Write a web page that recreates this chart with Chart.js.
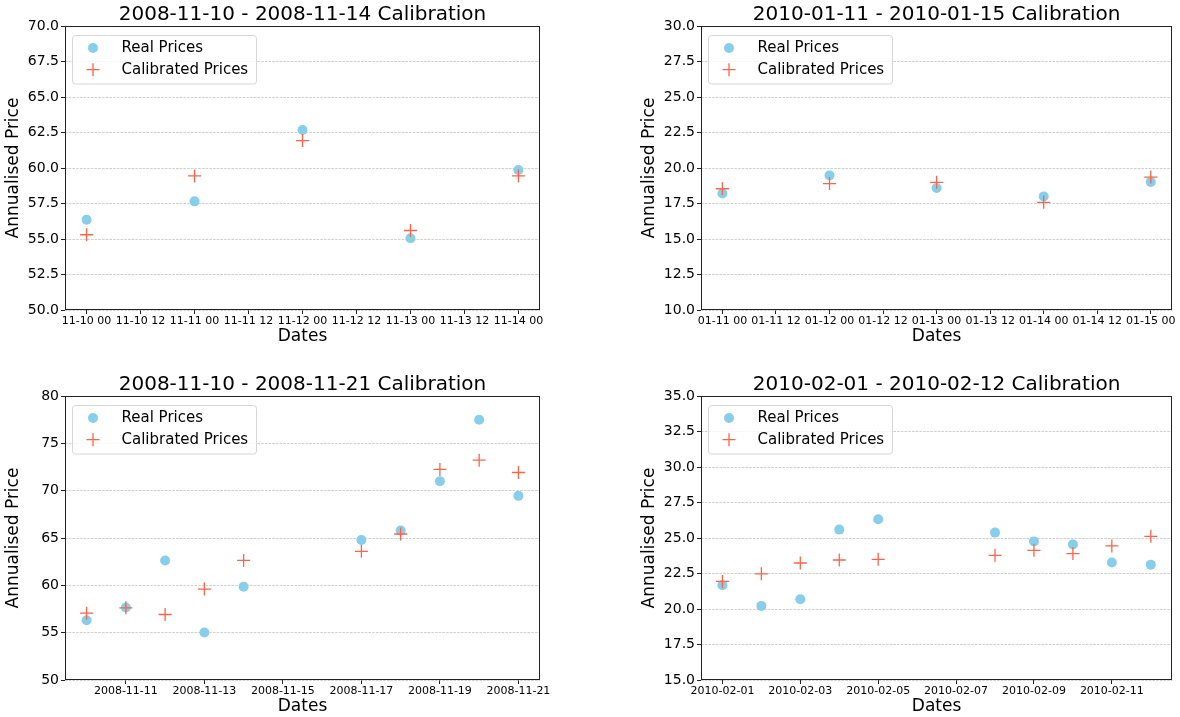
<!DOCTYPE html>
<html>
<head>
<meta charset="utf-8">
<script src="https://cdn.jsdelivr.net/npm/chart.js@4.4.1/dist/chart.umd.min.js"></script>
<style>
  html, body { margin: 0; padding: 0; background: #ffffff; }
  body { width: 1180px; height: 717px; position: relative; overflow: hidden; }
  .panel { position: absolute; width: 590px; height: 358px; }
  .panel canvas { display: block; }
</style>
</head>
<body>
<div class="panel" style="left:0;top:0"><canvas id="c1" width="590" height="358"></canvas></div>
<div class="panel" style="left:590px;top:0"><canvas id="c2" width="590" height="358"></canvas></div>
<div class="panel" style="left:0;top:370px"><canvas id="c3" width="590" height="358"></canvas></div>
<div class="panel" style="left:590px;top:370px"><canvas id="c4" width="590" height="358"></canvas></div>
<script>
// ---------------- DATA ----------------
const seriesNames = ['Real Prices', 'Calibrated Prices'];

// Panel 1: 2008-11-10 - 2008-11-14
const dates1 = ['2008-11-10', '2008-11-11', '2008-11-12', '2008-11-13', '2008-11-14'];
const real1 = [56.35, 57.65, 62.68, 55.05, 59.86];
const calib1 = [55.30, 59.44, 61.93, 55.60, 59.44];
const xTicks1 = ['2008-11-10T00', '2008-11-10T12', '2008-11-11T00', '2008-11-11T12', '2008-11-12T00',
                 '2008-11-12T12', '2008-11-13T00', '2008-11-13T12', '2008-11-14T00'];
const yTicks1 = [50.0, 52.5, 55.0, 57.5, 60.0, 62.5, 65.0, 67.5, 70.0];

// Panel 2: 2010-01-11 - 2010-01-15
const dates2 = ['2010-01-11', '2010-01-12', '2010-01-13', '2010-01-14', '2010-01-15'];
const real2 = [18.21, 19.48, 18.59, 18.00, 19.01];
const calib2 = [18.54, 18.90, 18.99, 17.58, 19.36];
const xTicks2 = ['2010-01-11T00', '2010-01-11T12', '2010-01-12T00', '2010-01-12T12', '2010-01-13T00',
                 '2010-01-13T12', '2010-01-14T00', '2010-01-14T12', '2010-01-15T00'];
const yTicks2 = [10.0, 12.5, 15.0, 17.5, 20.0, 22.5, 25.0, 27.5, 30.0];

// Panel 3: 2008-11-10 - 2008-11-21
const dates3 = ['2008-11-10', '2008-11-11', '2008-11-12', '2008-11-13', '2008-11-14',
                '2008-11-17', '2008-11-18', '2008-11-19', '2008-11-20', '2008-11-21'];
const real3 = [56.32, 57.66, 62.63, 55.01, 59.85, 64.79, 65.78, 71.00, 77.50, 69.45];
const calib3 = [57.06, 57.62, 56.92, 59.60, 62.63, 63.59, 65.42, 72.24, 73.22, 71.92];
const xTicks3 = ['2008-11-11', '2008-11-13', '2008-11-15', '2008-11-17', '2008-11-19', '2008-11-21'];
const yTicks3 = [50, 55, 60, 65, 70, 75, 80];

// Panel 4: 2010-02-01 - 2010-02-12
const dates4 = ['2010-02-01', '2010-02-02', '2010-02-03', '2010-02-04', '2010-02-05',
                '2010-02-08', '2010-02-09', '2010-02-10', '2010-02-11', '2010-02-12'];
const real4 = [21.68, 20.22, 20.69, 25.59, 26.32, 25.38, 24.76, 24.55, 23.28, 23.12];
const calib4 = [21.94, 22.48, 23.24, 23.45, 23.50, 23.78, 24.13, 23.90, 24.44, 25.12];
const xTicks4 = ['2010-02-01', '2010-02-03', '2010-02-05', '2010-02-07', '2010-02-09', '2010-02-11'];
const yTicks4 = [15.0, 17.5, 20.0, 22.5, 25.0, 27.5, 30.0, 32.5, 35.0];

// ---------------- HELPERS ----------------
const FONT = "'DejaVu Sans', 'Liberation Sans', sans-serif";
const REAL_COLOR = '#87CEEB';
const CALIB_COLOR = '#FF6347';

function toMs(s) {
  const [d, h] = s.split('T');
  const [y, m, dd] = d.split('-').map(Number);
  return Date.UTC(y, m - 1, dd, h ? Number(h) : 0);
}
function pad2(n) { return String(n).padStart(2, '0'); }
function fmtShort(ms) {
  const d = new Date(ms);
  return pad2(d.getUTCMonth() + 1) + '-' + pad2(d.getUTCDate()) + ' ' + pad2(d.getUTCHours());
}
function fmtLong(ms) {
  const d = new Date(ms);
  return d.getUTCFullYear() + '-' + pad2(d.getUTCMonth() + 1) + '-' + pad2(d.getUTCDate());
}

const framePlugin = {
  id: 'frameAndLegend',
  afterDatasetsDraw(chart) {
    const { ctx, chartArea: a } = chart;
    ctx.save();
    ctx.strokeStyle = '#222222';
    ctx.lineWidth = 1;
    ctx.strokeRect(Math.round(a.left) + 0.5, Math.round(a.top) + 0.5,
                   Math.round(a.right - a.left) - 1, Math.round(a.bottom - a.top) - 1);
    const bx = a.left + 7.5, by = a.top + 9.5, bw = 184, bh = 48.5, r = 3;
    ctx.beginPath();
    ctx.moveTo(bx + r, by);
    ctx.lineTo(bx + bw - r, by);
    ctx.quadraticCurveTo(bx + bw, by, bx + bw, by + r);
    ctx.lineTo(bx + bw, by + bh - r);
    ctx.quadraticCurveTo(bx + bw, by + bh, bx + bw - r, by + bh);
    ctx.lineTo(bx + r, by + bh);
    ctx.quadraticCurveTo(bx, by + bh, bx, by + bh - r);
    ctx.lineTo(bx, by + r);
    ctx.quadraticCurveTo(bx, by, bx + r, by);
    ctx.closePath();
    ctx.fillStyle = 'rgba(255,255,255,0.8)';
    ctx.fill();
    ctx.strokeStyle = '#d6d6d6';
    ctx.lineWidth = 1;
    ctx.stroke();
    const rows = [a.top + 22, a.top + 43.7];
    const mx = a.left + 28, tx = a.left + 56.5;
    chart.data.datasets.slice().sort((p, q) => p.legendIndex - q.legendIndex).forEach((ds, i) => {
      const y = rows[i];
      if (ds.pointStyle === 'circle') {
        ctx.beginPath();
        ctx.arc(mx, y, ds.pointRadius, 0, Math.PI * 2);
        ctx.fillStyle = ds.backgroundColor;
        ctx.fill();
      } else {
        ctx.beginPath();
        ctx.strokeStyle = ds.borderColor;
        ctx.lineWidth = ds.borderWidth;
        ctx.moveTo(mx - ds.pointRadius, y); ctx.lineTo(mx + ds.pointRadius, y);
        ctx.moveTo(mx, y - ds.pointRadius); ctx.lineTo(mx, y + ds.pointRadius);
        ctx.stroke();
      }
      ctx.fillStyle = '#000000';
      ctx.font = '15px ' + FONT;
      ctx.textAlign = 'left';
      ctx.textBaseline = 'middle';
      ctx.fillText(ds.label, tx, y);
    });
    ctx.restore();
  }
};

function makeChart(id, opts) {
  const xs = opts.dates.map(toMs);
  const span = xs[xs.length - 1] - xs[0];
  const xmin = xs[0] - 0.05 * span;
  const xmax = xs[xs.length - 1] + 0.05 * span;
  const tickMs = opts.xTicks.map(toMs);
  const yt = opts.yTicks;
  const decimals = opts.yDecimals;

  new Chart(document.getElementById(id), {
    type: 'scatter',
    data: {
      datasets: [
        {
          label: seriesNames[0],
          legendIndex: 0,
          order: 1,
          data: xs.map((x, i) => ({ x: x, y: opts.real[i] })),
          pointStyle: 'circle',
          pointRadius: 5,
          backgroundColor: REAL_COLOR,
          borderColor: REAL_COLOR,
          borderWidth: 0,
          pointHoverRadius: 5
        },
        {
          label: seriesNames[1],
          legendIndex: 1,
          order: 0,
          data: xs.map((x, i) => ({ x: x, y: opts.calib[i] })),
          pointStyle: 'cross',
          pointRadius: 6.5,
          backgroundColor: CALIB_COLOR,
          borderColor: CALIB_COLOR,
          borderWidth: 1.3,
          pointHoverRadius: 6.5
        }
      ]
    },
    options: {
      responsive: false,
      animation: false,
      events: [],
      layout: { padding: { left: opts.padLeft, right: opts.padRight, top: 0, bottom: 8 } },
      plugins: {
        legend: { display: false },
        tooltip: { enabled: false },
        title: {
          display: true,
          text: opts.title,
          fullSize: false,
          color: '#000000',
          font: { family: FONT, size: 20, weight: 'normal', lineHeight: 1.2 },
          padding: { top: 3, bottom: -1 }
        }
      },
      scales: {
        x: {
          type: 'linear',
          min: xmin,
          max: xmax,
          afterBuildTicks(scale) { scale.ticks = tickMs.map(v => ({ value: v })); },
          afterFit(scale) { scale.height = 40; },
          ticks: {
            autoSkip: false,
            maxRotation: 0,
            padding: 1,
            color: '#000000',
            font: { family: FONT, size: 11 },
            callback: (v) => opts.longLabels ? fmtLong(v) : fmtShort(v)
          },
          grid: {
            drawOnChartArea: false,
            drawTicks: true,
            tickLength: 4,
            tickColor: '#222222',
            tickWidth: 1
          },
          border: { display: false },
          title: {
            display: true,
            text: 'Dates',
            color: '#000000',
            font: { family: FONT, size: 17, lineHeight: 1.2 },
            padding: { top: 0, bottom: 3 }
          }
        },
        y: {
          type: 'linear',
          min: yt[0],
          max: yt[yt.length - 1],
          afterBuildTicks(scale) { scale.ticks = yt.map(v => ({ value: v })); },
          afterFit(scale) { scale.width = 65; },
          ticks: {
            autoSkip: false,
            padding: 2,
            color: '#000000',
            font: { family: FONT, size: 14 },
            callback: (v) => Number(v).toFixed(decimals)
          },
          grid: {
            drawTicks: true,
            tickLength: 4,
            tickColor: '#222222',
            tickWidth: 1,
            tickBorderDash: [],
            color: 'rgba(170,170,170,0.8)',
            lineWidth: 0.7
          },
          border: { display: false, dash: [2.6, 1.1] },
          title: {
            display: true,
            text: 'Annualised Price',
            color: '#000000',
            font: { family: FONT, size: 17, lineHeight: 1.2 },
            padding: { top: 3.5, bottom: 0 }
          }
        }
      }
    },
    plugins: [framePlugin]
  });
}

makeChart('c1', { dates: dates1, real: real1, calib: calib1, xTicks: xTicks1, yTicks: yTicks1,
  yDecimals: 1, longLabels: false, title: '2008-11-10 - 2008-11-14 Calibration', padLeft: 0, padRight: 50 });
makeChart('c2', { dates: dates2, real: real2, calib: calib2, xTicks: xTicks2, yTicks: yTicks2,
  yDecimals: 1, longLabels: false, title: '2010-01-11 - 2010-01-15 Calibration', padLeft: 46, padRight: 6 });
makeChart('c3', { dates: dates3, real: real3, calib: calib3, xTicks: xTicks3, yTicks: yTicks3,
  yDecimals: 0, longLabels: true, title: '2008-11-10 - 2008-11-21 Calibration', padLeft: 0, padRight: 50 });
makeChart('c4', { dates: dates4, real: real4, calib: calib4, xTicks: xTicks4, yTicks: yTicks4,
  yDecimals: 1, longLabels: true, title: '2010-02-01 - 2010-02-12 Calibration', padLeft: 46, padRight: 6 });
</script>
</body>
</html>
